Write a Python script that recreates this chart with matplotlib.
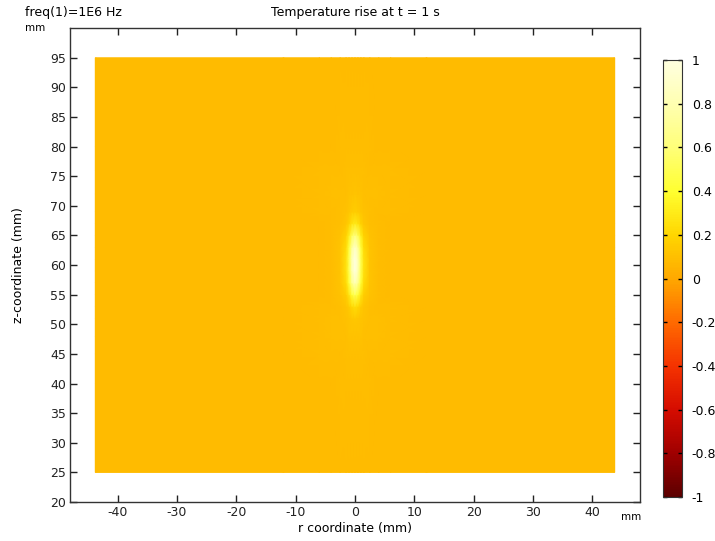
import numpy as np
import matplotlib
matplotlib.use("Agg")
import matplotlib.pyplot as plt
from matplotlib.colors import LinearSegmentedColormap, Normalize
from matplotlib.cm import ScalarMappable

plt.rcParams["axes.unicode_minus"] = False

# ---- data ----
r_half = [0.0, 0.5, 1.0, 1.5, 2.5, 4.0, 6.0, 12.0, 43.75]          # mm, r >= 0 (field symmetric)
z_vals = [25, 40, 45, 48, 51, 53, 55, 57, 59, 61, 63, 65, 67, 69, 72, 76, 80, 95]  # mm
T_half = [
    [0.08, 0.08, 0.08, 0.08, 0.08, 0.08, 0.08, 0.08, 0.08],
    [0.09, 0.09, 0.09, 0.09, 0.09, 0.08, 0.08, 0.08, 0.08],
    [0.10, 0.10, 0.10, 0.10, 0.09, 0.09, 0.09, 0.08, 0.08],
    [0.11, 0.11, 0.11, 0.10, 0.10, 0.10, 0.09, 0.08, 0.08],
    [0.14, 0.13, 0.12, 0.11, 0.10, 0.10, 0.09, 0.08, 0.08],
    [0.24, 0.21, 0.15, 0.12, 0.10, 0.09, 0.09, 0.08, 0.08],
    [0.50, 0.42, 0.27, 0.16, 0.11, 0.09, 0.08, 0.08, 0.08],
    [0.82, 0.70, 0.42, 0.22, 0.12, 0.09, 0.08, 0.08, 0.08],
    [0.97, 0.82, 0.48, 0.25, 0.12, 0.09, 0.08, 0.08, 0.08],
    [0.98, 0.83, 0.48, 0.25, 0.12, 0.09, 0.08, 0.08, 0.08],
    [0.88, 0.74, 0.43, 0.22, 0.12, 0.09, 0.08, 0.08, 0.08],
    [0.62, 0.52, 0.32, 0.18, 0.11, 0.09, 0.08, 0.08, 0.08],
    [0.30, 0.26, 0.18, 0.13, 0.10, 0.09, 0.08, 0.08, 0.08],
    [0.16, 0.15, 0.13, 0.11, 0.10, 0.09, 0.09, 0.08, 0.08],
    [0.12, 0.11, 0.11, 0.10, 0.10, 0.10, 0.09, 0.08, 0.08],
    [0.10, 0.10, 0.10, 0.10, 0.09, 0.09, 0.09, 0.08, 0.08],
    [0.09, 0.09, 0.09, 0.09, 0.09, 0.08, 0.08, 0.08, 0.08],
    [0.08, 0.08, 0.08, 0.08, 0.08, 0.08, 0.08, 0.08, 0.08],
]
x_ticks = [-40, -30, -20, -10, 0, 10, 20, 30, 40]
y_ticks = [20, 25, 30, 35, 40, 45, 50, 55, 60, 65, 70, 75, 80, 85, 90, 95]
cb_ticks = [-1, -0.8, -0.6, -0.4, -0.2, 0, 0.2, 0.4, 0.6, 0.8, 1]
cb_labels = ["-1", "-0.8", "-0.6", "-0.4", "-0.2", "0", "0.2", "0.4", "0.6", "0.8", "1"]

# mirror to full r range
r_full = np.array([-v for v in r_half[:0:-1]] + r_half)
T_arr = np.array(T_half)
T_full = np.hstack([T_arr[:, :0:-1], T_arr])
R, Z = np.meshgrid(r_full, np.array(z_vals, dtype=float))

cmap = LinearSegmentedColormap.from_list("thermal", [
    (0.0, "#5c0000"), (0.1, "#a00000"), (0.2, "#d50c00"), (0.3, "#f53300"),
    (0.4, "#ff6a00"), (0.5, "#ffa800"), (0.6, "#ffd600"), (0.7, "#ffff30"),
    (0.8, "#ffff78"), (0.9, "#ffffb0"), (1.0, "#ffffe0")])
norm = Normalize(-1, 1)

fig = plt.figure(figsize=(7.15, 5.41), dpi=100)
ax = fig.add_axes([0.098, 0.072, 0.797, 0.876])
ax.pcolormesh(R, Z, T_full, cmap=cmap, norm=norm, shading="gouraud")
ax.set_xlim(-48, 48)
ax.set_ylim(20, 100)
ax.set_xticks(x_ticks)
ax.set_yticks(y_ticks)
ax.tick_params(direction="in", length=5, width=1, top=True, right=True,
               labelsize=9, colors="#222222", pad=3)
for s in ax.spines.values():
    s.set_color("#333333")
    s.set_linewidth(1)
ax.set_xlabel("r coordinate (mm)", fontsize=9, labelpad=2)
ax.set_ylabel("z-coordinate (mm)", fontsize=9, labelpad=18)

fig.text(0.035, 0.976, "freq(1)=1E6 Hz", fontsize=9, ha="left", va="center")
fig.text(0.497, 0.976, "Temperature rise at t = 1 s", fontsize=9, ha="center", va="center")
fig.text(0.035, 0.948, "mm", fontsize=7.5, ha="left", va="center")
fig.text(0.868, 0.045, "mm", fontsize=7.5, ha="left", va="center")

cax = fig.add_axes([0.927, 0.081, 0.027, 0.808])
sm = ScalarMappable(norm=norm, cmap=cmap)
cb = fig.colorbar(sm, cax=cax)
cb.set_ticks(cb_ticks)
cb.set_ticklabels(cb_labels)
cax.tick_params(direction="in", length=3, width=1, left=True, right=True,
                labelsize=9, pad=7)
cb.outline.set_edgecolor("#333333")

fig.savefig("out.png", dpi=100)
